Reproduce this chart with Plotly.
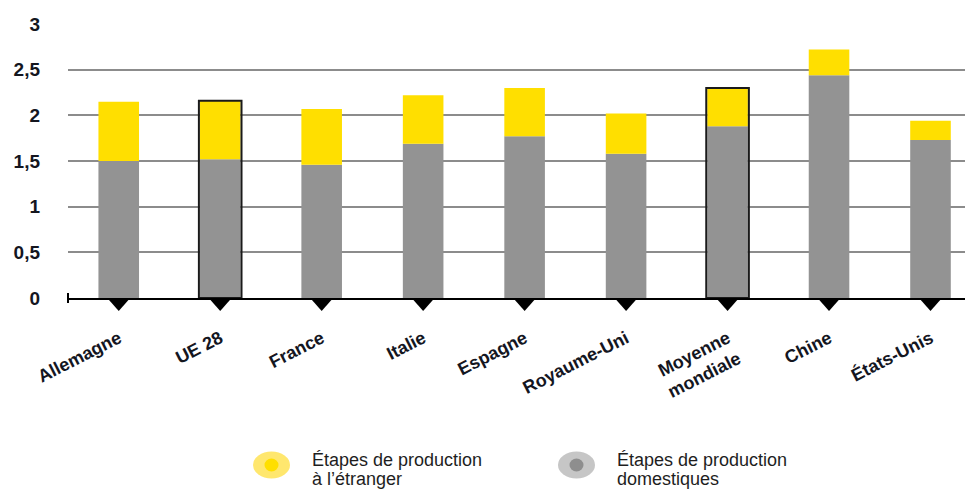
import plotly.graph_objects as go

# ---------------- data ----------------
categories = ["Allemagne", "UE 28", "France", "Italie", "Espagne", "Royaume-Uni",
              "Moyenne<br>mondiale", "Chine", "États-Unis"]
domestic = [1.50, 1.52, 1.46, 1.69, 1.77, 1.58, 1.88, 2.44, 1.73]
foreign = [0.65, 0.64, 0.61, 0.53, 0.53, 0.44, 0.42, 0.28, 0.21]
highlighted = ["UE 28", "Moyenne<br>mondiale"]
series_names = ["Étapes de production<br>à l’étranger", "Étapes de production<br>domestiques"]
y_ticks = [0, 0.5, 1, 1.5, 2, 2.5, 3]

# ---------------- style ----------------
W, H = 969, 490
M_L, M_R, M_T, M_B = 68, 4, 24, 192
X_RANGE = [-0.5, 8.34]
YELLOW = "#FFDF00"
GREY = "#939393"
TEXT = "#14161f"
FONT = "Liberation Sans, Arial, sans-serif"

plot_w = W - M_L - M_R
plot_h = H - M_T - M_B


def px_x(px):
    return (px - M_L) / plot_w


def px_y(py):
    return (H - M_B - py) / plot_h


def cat_to_paper(i):
    return (i - X_RANGE[0]) / (X_RANGE[1] - X_RANGE[0])


totals = [d + f if c in highlighted else None for c, d, f in zip(categories, domestic, foreign)]

fig = go.Figure()
fig.add_trace(go.Bar(x=categories, y=domestic, name=series_names[1], width=0.4,
                     marker=dict(color=GREY, line=dict(width=0)), showlegend=False))
fig.add_trace(go.Bar(x=categories, y=foreign, base=domestic, name=series_names[0], width=0.4,
                     marker=dict(color=YELLOW, line=dict(width=0)), showlegend=False))
fig.add_trace(go.Bar(x=categories, y=totals, width=0.42, showlegend=False, hoverinfo="skip",
                     marker=dict(color="rgba(0,0,0,0)", line=dict(color="#1a1a1a", width=2))))

shapes = []
# downward triangles under each category (paper-referenced so they are not clipped)
for i, c in enumerate(categories):
    shapes.append(dict(type="path", xref="paper", yref="paper", xsizemode="pixel", ysizemode="pixel",
                       xanchor=cat_to_paper(i), yanchor=0, path="M -11.5 0 L 11.5 0 L 0 -13 Z",
                       fillcolor="#000000", line=dict(width=0), layer="above"))
# small tick at the left end of the axis
shapes.append(dict(type="line", xref="paper", yref="paper", ysizemode="pixel", yanchor=0,
                   x0=0, x1=0, y0=-5, y1=5, line=dict(color="#000000", width=2)))

# custom legend
legend_items = [
    (series_names[0], 271.5, 310, "#FFE76E", YELLOW),
    (series_names[1], 576.5, 615, "#C6C6C6", "#8E8E8E"),
]
annotations = []
for name, cx, tx, outer, inner in legend_items:
    shapes.append(dict(type="circle", xref="paper", yref="paper", xsizemode="pixel", ysizemode="pixel",
                       xanchor=px_x(cx), yanchor=px_y(465), x0=-18.5, x1=18.5, y0=-13.5, y1=13.5,
                       fillcolor=outer, line=dict(width=0)))
    shapes.append(dict(type="circle", xref="paper", yref="paper", xsizemode="pixel", ysizemode="pixel",
                       xanchor=px_x(cx), yanchor=px_y(465), x0=-7, x1=7, y0=-6.5, y1=6.5,
                       fillcolor=inner, line=dict(width=0)))
    for i, line in enumerate(name.split("<br>")):
        annotations.append(dict(xref="paper", yref="paper", x=px_x(tx), y=px_y(460 + 19 * i),
                                xanchor="left", yanchor="middle", text=line, showarrow=False,
                                font=dict(family=FONT, size=18, color="#1e1e1e")))

fig.update_layout(
    width=W, height=H,
    margin=dict(l=M_L, r=M_R, t=M_T, b=M_B, pad=0),
    paper_bgcolor="white", plot_bgcolor="white",
    barmode="overlay",
    separators=", ",
    showlegend=False,
    shapes=shapes,
    annotations=annotations,
    font=dict(family=FONT, color=TEXT),
)
fig.update_xaxes(
    type="category", range=X_RANGE,
    showline=True, linecolor="#000000", linewidth=2,
    showgrid=False, ticks="", tickangle=-27,
    ticklabelstandoff=21,
    tickfont=dict(family=FONT, size=18, color=TEXT, weight="bold"),
)
fig.update_yaxes(
    range=[0, 3], tickvals=y_ticks, ticks="",
    showgrid=True, gridcolor="#8c8c8c", gridwidth=1.5,
    zeroline=False, showline=False,
    ticklabelstandoff=27,
    tickfont=dict(family=FONT, size=19, color=TEXT, weight="bold"),
)

fig.write_html("out.html")
